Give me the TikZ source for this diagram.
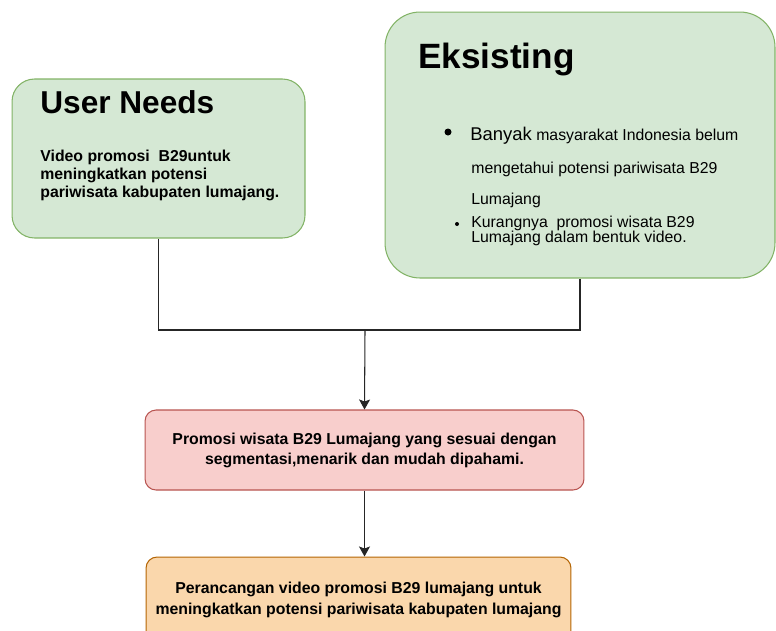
\documentclass[tikz,border=0pt]{standalone}
\usepackage{fontspec}
\setmainfont{Liberation Sans}
\usetikzlibrary{arrows.meta}
\definecolor{greenfill}{HTML}{D5E8D4}
\definecolor{greenline}{HTML}{82B366}
\definecolor{redfill}{HTML}{F8CECC}
\definecolor{redline}{HTML}{B85450}
\definecolor{orangefill}{HTML}{FAD7AC}
\definecolor{orangeline}{HTML}{B46504}
\begin{document}
\begin{tikzpicture}[x = 0.02cm, y = -0.02cm,
  box/.style = {draw, line width = 0.6pt, inner sep = 0pt},
  greenbox/.style = {box, fill = greenfill, draw = greenline},
  redbox/.style = {box, fill = redfill, draw = redline, rounded corners = 0.22cm},
  orangebox/.style = {box, fill = orangefill, draw = orangeline, rounded corners = 0.22cm},
  title/.style = {anchor = base west, inner sep = 0pt, font = \bfseries\fontsize{18pt}{20pt}\selectfont},
  body/.style = {anchor = base west, inner sep = 0pt, font = \fontsize{9pt}{10.8pt}\selectfont},
  conn/.style = {line width = 0.6pt, draw = black!85},
  arrow/.style = {conn, -{Stealth[length = 0.2cm, width = 0.22cm, inset = 0.04cm]}}]
\useasboundingbox (0,0) rectangle (776,630);
\clip (0,0) rectangle (776,630);
% the two boxes on top
\node[greenbox, rounded corners = 0.45cm, minimum width = 5.86cm, minimum height = 3.18cm] (un) at (158.5,158.5) {};
\node[greenbox, rounded corners = 0.7cm, minimum width = 7.8cm, minimum height = 5.32cm] (ek) at (580,145) {};
\node[title] (untitle) at (40,113) {User Needs};
\foreach \n/\y/\txt in {1/161/{Video promosi\ \ B29untuk}, 2/179/meningkatkan potensi, 3/197/pariwisata kabupaten lumajang.}
{
\node[body, font = \bfseries\fontsize{9pt}{10.8pt}\selectfont] (unline\n) at (40,\y) {\txt};
}
\node[title, font = \bfseries\fontsize{20pt}{22pt}\selectfont] (ektitle) at (418,68) {Eksisting};
\node[circle, fill = black, inner sep = 0pt, minimum size = 0.14cm] (bulA) at (448,132) {};
\node[body] (ekline1) at (470,140) {{\fontsize{10.5pt}{12pt}\selectfont Banyak} masyarakat Indonesia belum};
\foreach \n/\y/\txt in {2/173/mengetahui potensi pariwisata B29, 3/204/Lumajang, 4/227/{Kurangnya\ \ promosi wisata B29}, 5/242/Lumajang dalam bentuk video.}
{
\node[body] (ekline\n) at (471,\y) {\txt};
}
\node[circle, fill = black, inner sep = 0pt, minimum size = 0.08cm] (bulB) at (457,224) {};
% the two boxes below
\node[redbox, minimum width = 8.78cm, minimum height = 1.6cm, align = center,
  font = \bfseries\fontsize{9pt}{11.4pt}\selectfont] (red) at (364.5,450)
  {Promosi wisata B29 Lumajang yang sesuai dengan\\segmentasi,menarik dan mudah dipahami.};
\node[orangebox, minimum width = 8.5cm, minimum height = 1.72cm, align = center,
  font = \bfseries\fontsize{9pt}{12.2pt}\selectfont] (org) at (358.5,600)
  {Perancangan video promosi B29 lumajang untuk\\meningkatkan potensi pariwisata kabupaten lumajang};
% connectors
\coordinate (mrg) at (365,330);
\draw[conn] (un.south) |- (mrg);
\draw[conn] (ek.south) |- (mrg);
\draw[arrow] (mrg) -- (red.north);
\draw[arrow] (red.south) -- (red.south |- org.north);
\end{tikzpicture}
\end{document}
